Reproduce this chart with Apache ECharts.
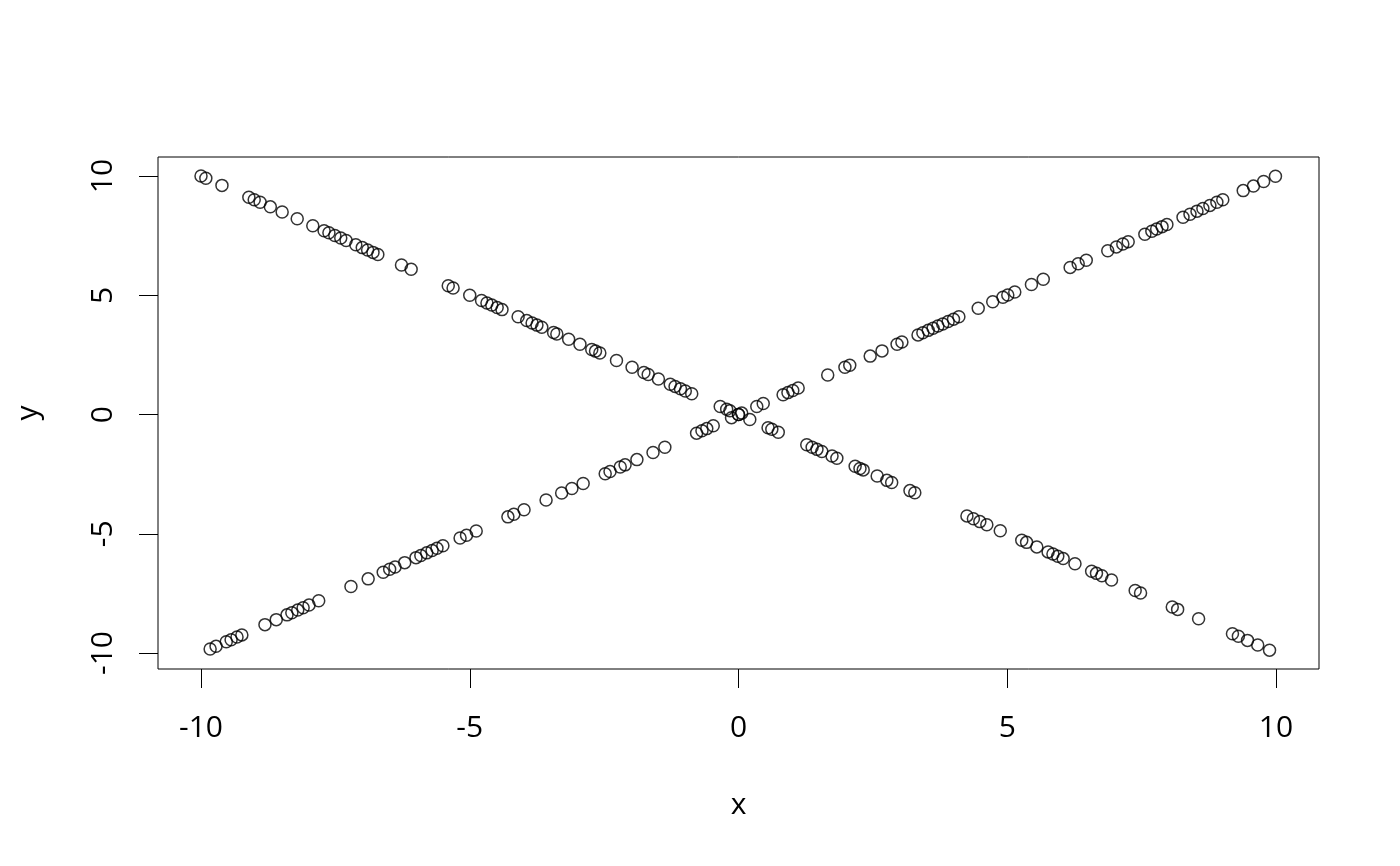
<!DOCTYPE html>
<html>
<head>
<meta charset="utf-8">
<script src="https://cdn.jsdelivr.net/npm/echarts@6/dist/echarts.min.js"></script>
<style>html,body{margin:0;padding:0;background:#fff;}#c{width:1400px;height:866px;}</style>
</head>
<body>
<div id="c"></div>
<script>
// Series falling from top-left (y = -x)
const xDown = [-10.0,-9.91,-9.61,-9.11,-9.01,-8.90,-8.71,-8.49,-8.21,-7.92,-7.71,-7.62,-7.51,-7.40,-7.30,-7.12,-7.0,-6.90,-6.80,-6.71,-6.27,-6.09,-5.40,-5.31,-5.00,-4.78,-4.68,-4.59,-4.49,-4.40,-4.10,-3.94,-3.84,-3.75,-3.66,-3.44,-3.38,-3.16,-2.95,-2.73,-2.66,-2.58,-2.27,-1.98,-1.76,-1.68,-1.49,-1.27,-1.18,-1.08,-0.99,-0.87,-0.34,-0.22,-0.16,0.0,0.21,0.55,0.62,0.74,1.27,1.37,1.46,1.55,1.74,1.83,2.17,2.26,2.32,2.58,2.76,2.85,3.19,3.28,4.25,4.37,4.49,4.62,4.87,5.27,5.36,5.55,5.76,5.85,5.94,6.04,6.26,6.57,6.66,6.76,6.94,7.38,7.48,8.07,8.17,8.56,9.19,9.30,9.47,9.66,9.88];
const yDown = [10.0,9.91,9.61,9.11,9.01,8.90,8.71,8.49,8.21,7.92,7.71,7.62,7.51,7.40,7.30,7.12,7.0,6.90,6.80,6.71,6.27,6.09,5.40,5.31,5.00,4.78,4.68,4.59,4.49,4.40,4.10,3.94,3.84,3.75,3.66,3.44,3.38,3.16,2.95,2.73,2.66,2.58,2.27,1.98,1.76,1.68,1.49,1.27,1.18,1.08,0.99,0.87,0.34,0.22,0.16,0.0,-0.21,-0.55,-0.62,-0.74,-1.27,-1.37,-1.46,-1.55,-1.74,-1.83,-2.17,-2.26,-2.32,-2.58,-2.76,-2.85,-3.19,-3.28,-4.25,-4.37,-4.49,-4.62,-4.87,-5.27,-5.36,-5.55,-5.76,-5.85,-5.94,-6.04,-6.26,-6.57,-6.66,-6.76,-6.94,-7.38,-7.48,-8.07,-8.17,-8.56,-9.19,-9.30,-9.47,-9.66,-9.88];
// Series rising from bottom-left (y = x)
const xUp = [-9.83,-9.72,-9.53,-9.44,-9.33,-9.24,-8.81,-8.60,-8.40,-8.31,-8.20,-8.10,-7.99,-7.81,-7.21,-6.89,-6.61,-6.49,-6.39,-6.21,-6.0,-5.91,-5.80,-5.70,-5.61,-5.50,-5.18,-5.06,-4.88,-4.29,-4.18,-3.99,-3.58,-3.29,-3.10,-2.89,-2.48,-2.39,-2.20,-2.11,-1.89,-1.59,-1.37,-0.78,-0.68,-0.59,-0.47,-0.13,0.0,0.06,0.34,0.46,0.83,0.92,1.01,1.11,1.66,1.98,2.07,2.45,2.67,2.95,3.04,3.34,3.43,3.53,3.62,3.71,3.80,3.90,4.0,4.10,4.46,4.73,4.92,5.01,5.14,5.45,5.67,6.17,6.32,6.47,6.87,7.03,7.15,7.25,7.56,7.69,7.78,7.88,7.97,8.27,8.40,8.53,8.64,8.77,8.90,9.01,9.39,9.58,9.77,9.99];
const yUp = [-9.83,-9.72,-9.53,-9.44,-9.33,-9.24,-8.81,-8.60,-8.40,-8.31,-8.20,-8.10,-7.99,-7.81,-7.21,-6.89,-6.61,-6.49,-6.39,-6.21,-6.0,-5.91,-5.80,-5.70,-5.61,-5.50,-5.18,-5.06,-4.88,-4.29,-4.18,-3.99,-3.58,-3.29,-3.10,-2.89,-2.48,-2.39,-2.20,-2.11,-1.89,-1.59,-1.37,-0.78,-0.68,-0.59,-0.47,-0.13,0.0,0.06,0.34,0.46,0.83,0.92,1.01,1.11,1.66,1.98,2.07,2.45,2.67,2.95,3.04,3.34,3.43,3.53,3.62,3.71,3.80,3.90,4.0,4.10,4.46,4.73,4.92,5.01,5.14,5.45,5.67,6.17,6.32,6.47,6.87,7.03,7.15,7.25,7.56,7.69,7.78,7.88,7.97,8.27,8.40,8.53,8.64,8.77,8.90,9.01,9.39,9.58,9.77,9.99];
const xTicks = [-10, -5, 0, 5, 10];
const yTicks = [-10, -5, 0, 5, 10];

const FONT = 'Open Sans';
const chart = echarts.init(document.getElementById('c'), null, {renderer: 'canvas'});
const pts = (xs, ys) => xs.map((v, i) => [v, ys[i]]);
const symStyle = {color: 'rgba(0,0,0,0)', borderColor: '#000', borderWidth: 1.5};

chart.setOption({
  animation: false,
  backgroundColor: '#fff',
  grid: {left: 158, top: 157, width: 1161, height: 512, show: true, borderColor: '#000', borderWidth: 1, backgroundColor: 'transparent'},
  xAxis: {
    type: 'value', min: -10.8, max: 10.8,
    name: 'x', nameLocation: 'middle', nameGap: 121,
    nameTextStyle: {fontFamily: FONT, fontSize: 30, color: '#000'},
    axisLine: {show: false, onZero: false}, splitLine: {show: false},
    axisTick: {show: true, customValues: xTicks, length: 19, inside: false, lineStyle: {color: '#000', width: 1}},
    axisLabel: {show: true, customValues: xTicks, margin: 44, fontFamily: FONT, fontSize: 30, color: '#000'}
  },
  yAxis: {
    type: 'value', min: -10.67, max: 10.8,
    name: 'y', nameLocation: 'middle', nameGap: 115, nameRotate: 90,
    nameTextStyle: {fontFamily: FONT, fontSize: 30, color: '#000'},
    axisLine: {show: false, onZero: false}, splitLine: {show: false},
    axisTick: {show: true, customValues: yTicks, length: 19, inside: false, lineStyle: {color: '#000', width: 1}},
    axisLabel: {show: true, customValues: yTicks, rotate: 90, margin: 40, fontFamily: FONT, fontSize: 30, color: '#000'}
  },
  series: [
    {type: 'scatter', data: pts(xDown, yDown), symbol: 'circle', symbolSize: 12, itemStyle: symStyle, emphasis: {disabled: true}},
    {type: 'scatter', data: pts(xUp, yUp), symbol: 'circle', symbolSize: 12, itemStyle: symStyle, emphasis: {disabled: true}}
  ]
});
</script>
</body>
</html>
